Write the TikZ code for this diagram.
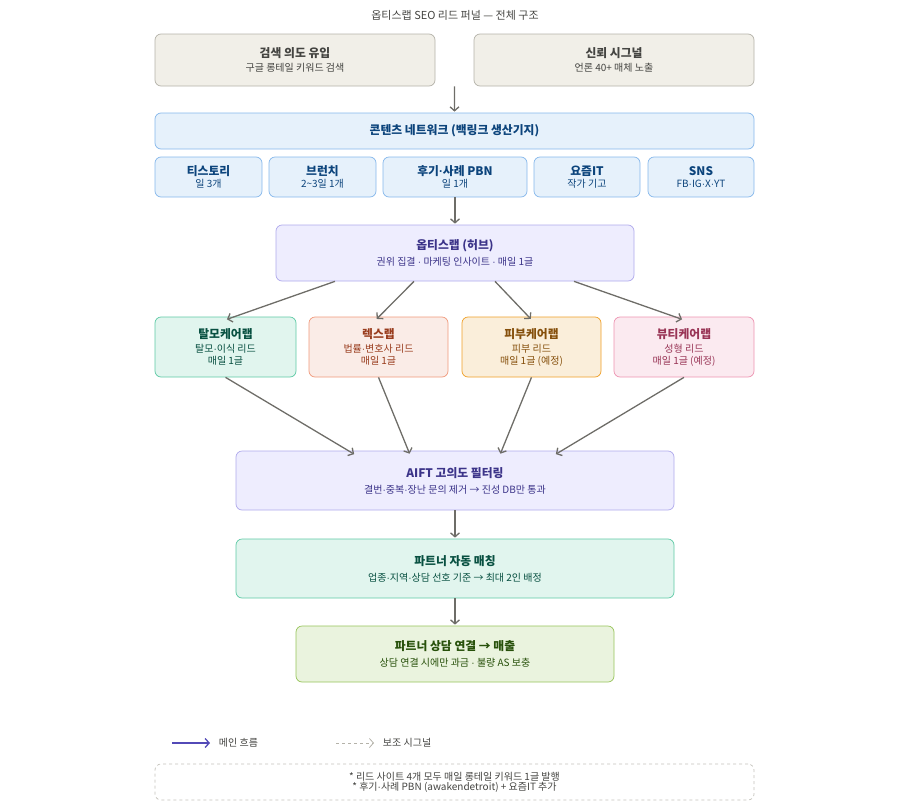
\documentclass[tikz,border=0pt]{standalone}
\usepackage{fontspec}
\setmainfont{Noto Sans CJK KR}
\newfontfamily\latinfont{Liberation Sans}
\usepackage{tikz}
\usetikzlibrary{arrows.meta,calc,positioning}

\definecolor{greyfill}{HTML}{F1EFE8}
\definecolor{greydraw}{HTML}{B4B2A9}
\definecolor{greytext}{HTML}{444441}
\definecolor{bluefill}{HTML}{E6F1FB}
\definecolor{bluedraw}{HTML}{85B7EB}
\definecolor{bluetext}{HTML}{0C447C}
\definecolor{purpfill}{HTML}{EEEDFE}
\definecolor{purpdraw}{HTML}{AFA9EC}
\definecolor{purptext}{HTML}{3C3489}
\definecolor{tealfill}{HTML}{E1F5EE}
\definecolor{tealdraw}{HTML}{5DCAA5}
\definecolor{tealtext}{HTML}{085041}
\definecolor{corfill}{HTML}{FAECE7}
\definecolor{cordraw}{HTML}{F0997B}
\definecolor{cortext}{HTML}{993C1D}
\definecolor{ambfill}{HTML}{FAEEDA}
\definecolor{ambdraw}{HTML}{EF9F27}
\definecolor{ambtext}{HTML}{854F0B}
\definecolor{pinkfill}{HTML}{FBEAF0}
\definecolor{pinkdraw}{HTML}{ED93B1}
\definecolor{pinktext}{HTML}{993556}
\definecolor{grnfill}{HTML}{EAF3DE}
\definecolor{grndraw}{HTML}{97C459}
\definecolor{grntext}{HTML}{27500A}
\definecolor{flow}{HTML}{6E6D68}
\definecolor{mainline}{HTML}{534AB7}

\newcommand{\boxhead}[1]{{\fontsize{11.8}{14}\selectfont\bfseries #1}}
\newcommand{\boxsub}[1]{{\fontsize{10}{12.5}\selectfont #1}}
\newcommand{\mdot}{{\latinfont ·}}

\begin{document}
\begin{tikzpicture}[x=1pt,y=-1pt,->,>={Straight Barb[length=4pt,width=9pt]},
                    shorten >=1pt,line width=1.3pt]
  \tikzstyle{box}=[rectangle,rounded corners=6pt,line width=0.7pt,align=center,inner sep=0pt]
  \tikzstyle{greybox}=[box,fill=greyfill,draw=greydraw,text=greytext]
  \tikzstyle{bluebox}=[box,fill=bluefill,draw=bluedraw,text=bluetext]
  \tikzstyle{purpbox}=[box,fill=purpfill,draw=purpdraw,text=purptext]
  \tikzstyle{tealbox}=[box,fill=tealfill,draw=tealdraw,text=tealtext]
  \tikzstyle{corbox}=[box,fill=corfill,draw=cordraw,text=cortext]
  \tikzstyle{ambbox}=[box,fill=ambfill,draw=ambdraw,text=ambtext]
  \tikzstyle{pinkbox}=[box,fill=pinkfill,draw=pinkdraw,text=pinktext]
  \tikzstyle{grnbox}=[box,fill=grnfill,draw=grndraw,text=grntext]
  \tikzstyle{flowline}=[color=flow]

  \useasboundingbox (0,0) rectangle (911,809);

  \node[text=greytext] (title) at (455,15) {\fontsize{11}{13}\selectfont 옵티스랩 SEO 리드 퍼널 — 전체 구조};

  \node[greybox,minimum width=280pt,minimum height=52pt] (intent) at (295,60)
        {\boxhead{검색 의도 유입}\\[2pt]\boxsub{구글 롱테일 키워드 검색}};
  \node[greybox,minimum width=280pt,minimum height=52pt] (trust) at (614,60)
        {\boxhead{신뢰 시그널}\\[2pt]\boxsub{언론 40+ 매체 노출}};

  \node[bluebox,minimum width=599pt,minimum height=36pt] (net) at (454.5,131)
        {\boxhead{콘텐츠 네트워크 (백링크 생산기지)}};
  \node[bluebox,minimum width=107pt,minimum height=40pt] (tistory) at (208.5,177)
        {\boxhead{티스토리}\\\boxsub{일 3개}};
  \node[bluebox,minimum width=107pt,minimum height=40pt] (brunch) at (322.5,177)
        {\boxhead{브런치}\\\boxsub{2\textasciitilde3일 1개}};
  \node[bluebox,minimum width=144pt,minimum height=40pt] (pbn) at (455,177)
        {\boxhead{후기\mdot 사례 PBN}\\\boxsub{일 1개}};
  \node[bluebox,minimum width=106pt,minimum height=40pt] (yozm) at (587,177)
        {\boxhead{요즘IT}\\\boxsub{작가 기고}};
  \node[bluebox,minimum width=106pt,minimum height=40pt] (sns) at (701,177)
        {\boxhead{SNS}\\\boxsub{FB\mdot IG\mdot X\mdot YT}};

  \node[purpbox,minimum width=358pt,minimum height=56pt] (hub) at (455,253)
        {\boxhead{옵티스랩 (허브)}\\[4pt]\boxsub{권위 집결 \mdot\ 마케팅 인사이트 \mdot\ 매일 1글}};

  \node[tealbox,minimum width=141pt,minimum height=60pt] (hair) at (225.5,347)
        {\boxhead{탈모케어랩}\\[2pt]\boxsub{탈모\mdot 이식 리드}\\[0pt]\boxsub{매일 1글}};
  \node[corbox,minimum width=139pt,minimum height=60pt] (lex) at (378.5,347)
        {\boxhead{렉스랩}\\[2pt]\boxsub{법률\mdot 변호사 리드}\\[0pt]\boxsub{매일 1글}};
  \node[ambbox,minimum width=139pt,minimum height=60pt] (skin) at (531.5,347)
        {\boxhead{피부케어랩}\\[2pt]\boxsub{피부 리드}\\[0pt]\boxsub{매일 1글 (예정)}};
  \node[pinkbox,minimum width=140pt,minimum height=60pt] (beauty) at (684,347)
        {\boxhead{뷰티케어랩}\\[2pt]\boxsub{성형 리드}\\[0pt]\boxsub{매일 1글 (예정)}};

  \node[purpbox,minimum width=438pt,minimum height=59pt] (aift) at (455,480.5)
        {\boxhead{AIFT 고의도 필터링}\\[4pt]\boxsub{결번\mdot 중복\mdot 장난 문의 제거 → 진성 DB만 통과}};
  \node[tealbox,minimum width=438pt,minimum height=59pt] (match) at (455,568.5)
        {\boxhead{파트너 자동 매칭}\\[4pt]\boxsub{업종\mdot 지역\mdot 상담 선호 기준 → 최대 2인 배정}};
  \node[grnbox,minimum width=318pt,minimum height=56pt] (sales) at (455,654)
        {\boxhead{파트너 상담 연결 → 매출}\\[4pt]\boxsub{상담 연결 시에만 과금 \mdot\ 불량 AS 보충}};

  % legend
  \coordinate (m1) at (172,743);
  \coordinate (m2) at (211,743);
  \coordinate (d1) at (336,743);
  \coordinate (d2) at (375,743);
  \node[anchor=west,text=greytext] (mainlbl) at (215,743) {\boxsub{메인 흐름}};
  \node[anchor=west,text=greytext] (sublbl) at (379,743) {\boxsub{보조 시그널}};
  \node[box,draw=greydraw!80,dashed,minimum width=599pt,minimum height=36pt,text=greytext] (note) at (454.5,782)
        {\boxsub{* 리드 사이트 4개 모두 매일 롱테일 키워드 1글 발행}\\[-2pt]
         \boxsub{* 후기\mdot 사례 PBN (awakendetroit) + 요즘IT 추가}};

  \path[flowline]
    ($(intent.south east)!0.5!(trust.south west)$) edge (net.north)
    (pbn.south) edge (hub.north)
    ([xshift=-120pt]hub.south) edge ([xshift=0.5pt,yshift=-3pt]hair.north)
    ([xshift=-41pt]hub.south) edge ([xshift=-2.5pt,yshift=-3pt]lex.north)
    ([xshift=40pt]hub.south) edge ([yshift=-3pt]skin.north)
    ([xshift=119pt]hub.south) edge ([xshift=-1pt,yshift=-3pt]beauty.north)
    (hair.south) edge ([xshift=-100pt,yshift=-4pt]aift.north)
    (lex.south) edge ([xshift=-45pt,yshift=-4pt]aift.north)
    (skin.south) edge ([xshift=45pt,yshift=-4pt]aift.north)
    (beauty.south) edge ([xshift=100pt,yshift=-4pt]aift.north)
    (aift.south) edge (match.north)
    (match.south) edge (sales.north);

  \draw[mainline,line width=1.3pt] (m1) -- (m2);
  \draw[greydraw,line width=0.8pt,dashed] (d1) -- (d2);
\end{tikzpicture}
\end{document}
